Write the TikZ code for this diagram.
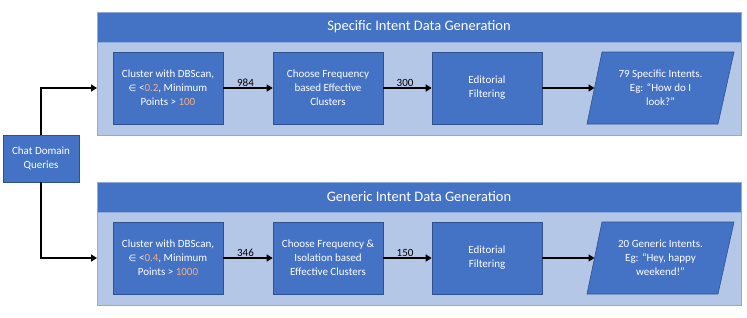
\documentclass[tikz,border=0pt]{standalone}
\usepackage{fontspec}
\setmainfont{Carlito}
\newfontfamily\symfnt{DejaVu Sans}
\usetikzlibrary{arrows.meta}
\definecolor{dblue}{HTML}{4472C4}
\definecolor{lblue}{HTML}{B4C7E7}
\definecolor{bord}{HTML}{2F528F}
\definecolor{cbord}{HTML}{8FAADC}
\definecolor{orng}{HTML}{F4B183}
\tikzset{
  container/.style={draw=cbord, fill=lblue, line width=0.8pt},
  titlebar/.style={draw=cbord, fill=dblue, line width=0.8pt},
  procbox/.style={draw=bord, fill=dblue, line width=0.6pt, text=white, align=center, font=\fontsize{11}{14}\selectfont, inner sep=0pt},
  outbox/.style={draw=bord, fill=dblue, line width=0.6pt},
  conn/.style={line width=1.8pt, -{Triangle[length=6pt,width=7pt]}},
  lbl/.style={font=\fontsize{11}{13}\selectfont, text=black, inner sep=1pt}
}
\newcommand{\eps}{{\symfnt\fontsize{9}{11}\selectfont ∈}}
\begin{document}
\begin{tikzpicture}[x=1pt,y=-1pt]
\useasboundingbox (0,0) rectangle (747,317);
% top container
\draw[container] (97,12) rectangle (741,135);
\draw[titlebar] (97,12) rectangle (741,42);
\node[text=white, font=\fontsize{14.5}{16}\selectfont] (t1) at (419,27) {Specific Intent Data Generation};
\coordinate (c1in) at (97,88);
% bottom container
\draw[container] (97,182) rectangle (741,305);
\draw[titlebar] (97,182) rectangle (741,212);
\node[text=white, font=\fontsize{14.5}{16}\selectfont] (t2) at (419,197) {Generic Intent Data Generation};
\coordinate (c2in) at (97,258);
% chat box
\node[procbox, minimum width=76pt, minimum height=47pt] (chat) at (41,158.5) {Chat Domain\\Queries};
% top row
\node[procbox, minimum width=110pt, minimum height=72pt] (a1) at (168,88)
  {Cluster with DBScan,\\ \eps{} <\textcolor{orng}{0.2}, Minimum\\ Points > \textcolor{orng}{100}};
\node[procbox, minimum width=110pt, minimum height=72pt] (b1) at (328,88)
  {Choose Frequency\\based Effective\\Clusters};
\node[procbox, minimum width=110pt, minimum height=72pt] (e1) at (487,88)
  {Editorial\\Filtering};
\draw[outbox] (587,124) -- (602,52) -- (734,52) -- (718,124) -- cycle;
\coordinate (o1w) at (594.5,88);
\node[text=white, align=center, font=\fontsize{11}{14}\selectfont] (o1) at (660.5,88) {79 Specific Intents.\\Eg: “How do I\\look?”};
% bottom row
\node[procbox, minimum width=110pt, minimum height=72pt] (a2) at (168,258)
  {Cluster with DBScan,\\ \eps{} <\textcolor{orng}{0.4}, Minimum\\ Points > \textcolor{orng}{1000}};
\node[procbox, minimum width=110pt, minimum height=72pt] (b2) at (328,258)
  {Choose Frequency \&\\Isolation based\\Effective Clusters};
\node[procbox, minimum width=110pt, minimum height=72pt] (e2) at (487,258)
  {Editorial\\Filtering};
\draw[outbox] (587,294) -- (602,222) -- (734,222) -- (718,294) -- cycle;
\coordinate (o2w) at (594.5,258);
\node[text=white, align=center, font=\fontsize{11}{14}\selectfont] (o2) at (660.5,258) {20 Generic Intents.\\Eg: “Hey, happy\\weekend!”};
% connectors
\draw[conn] (chat.north) |- (c1in);
\draw[conn] (chat.south) |- (c2in);
\draw[conn] (a1.east) -- node[lbl, above, pos=0.45] (l1) {984} (b1.west);
\draw[conn] (b1.east) -- node[lbl, above, pos=0.45] (l2) {300} (e1.west);
\draw[conn] (e1.east) -- (o1w);
\draw[conn] (a2.east) -- node[lbl, above, pos=0.45] (l3) {346} (b2.west);
\draw[conn] (b2.east) -- node[lbl, above, pos=0.45] (l4) {150} (e2.west);
\draw[conn] (e2.east) -- (o2w);
\end{tikzpicture}
\end{document}
